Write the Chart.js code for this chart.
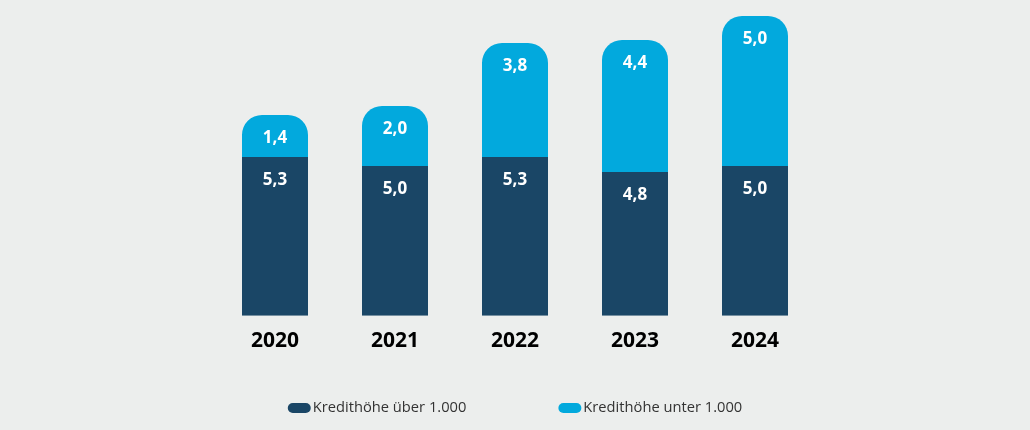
<!DOCTYPE html>
<html>
<head>
<meta charset="utf-8">
<script src="https://cdn.jsdelivr.net/npm/chart.js@4/dist/chart.umd.min.js"></script>
<style>
  html, body { margin: 0; padding: 0; background: #eceeed; }
  #wrap { width: 1030px; height: 430px; position: relative; }
</style>
</head>
<body>
<div id="wrap"><canvas id="c"></canvas></div>
<script>
// Kredithöhe je Jahr (gestapelt)
const years = ['2020', '2021', '2022', '2023', '2024'];
const ueber1000 = [5.3, 5.0, 5.3, 4.8, 5.0];
const unter1000 = [1.4, 2.0, 3.8, 4.4, 5.0];
const seriesNames = ['Kredithöhe über 1.000', 'Kredithöhe unter 1.000'];

const navy = '#1a4666';
const cyan = '#02a9dd';

// white value labels, near the top of every segment
const valueLabels = {
  id: 'valueLabels',
  afterDatasetsDraw(chart) {
    const ctx = chart.ctx;
    ctx.save();
    ctx.fillStyle = '#ffffff';
    ctx.font = 'bold 17px "Open Sans"';
    ctx.textAlign = 'center';
    ctx.textBaseline = 'middle';
    chart.data.datasets.forEach((ds, i) => {
      chart.getDatasetMeta(i).data.forEach((bar, j) => {
        let txt = ds.data[j].toFixed(1).replace('.', ',');
        ctx.fillText(txt, bar.x, bar.y + 23);
      });
    });
    ctx.restore();
  }
};

// legend drawn by hand: the built-in one can't do the wide gap without wrapping
const bottomLegend = {
  id: 'bottomLegend',
  afterDraw(chart) {
    const ctx = chart.ctx;
    const y = 408;
    const gap = 92;
    ctx.save();
    ctx.font = '14.7px "Open Sans"';
    ctx.textBaseline = 'middle';
    const items = chart.data.datasets.map(ds => ({
      text: ds.label,
      color: ds.backgroundColor,
      w: 25 + ctx.measureText(ds.label).width
    }));
    let total = items.reduce((s, it) => s + it.w, 0) + gap * (items.length - 1);
    let x = chart.width / 2 - total / 2;
    items.forEach(it => {
      ctx.fillStyle = it.color;
      ctx.beginPath();
      ctx.roundRect(x, y - 5, 23, 10, 5);
      ctx.fill();
      ctx.fillStyle = '#333';
      ctx.fillText(it.text, x + 25, y);
      x += it.w + gap;
    });
    ctx.restore();
  }
};

new Chart(document.getElementById('c'), {
  type: 'bar',
  data: {
    labels: years,
    datasets: [
      {
        label: seriesNames[0],
        data: ueber1000,
        backgroundColor: navy,
        borderRadius: 0,
        borderSkipped: false,
        categoryPercentage: 1,
        barPercentage: 0.55
      },
      {
        label: seriesNames[1],
        data: unter1000,
        backgroundColor: cyan,
        borderRadius: { topLeft: 20, topRight: 20, bottomLeft: 0, bottomRight: 0 },
        borderSkipped: false,
        categoryPercentage: 1,
        barPercentage: 0.55
      }
    ]
  },
  options: {
    responsive: true,
    maintainAspectRatio: false,
    animation: false,
    layout: { padding: { left: 215, right: 215, top: 16, bottom: 63 } },
    scales: {
      x: {
        stacked: true,
        grid: { display: false, drawTicks: false },
        border: { display: false },
        ticks: {
          color: '#000',
          padding: 13,
          font: { family: 'Open Sans', size: 21, weight: 'bold' }
        }
      },
      y: {
        stacked: true,
        display: false,
        min: 0,
        max: 10
      }
    },
    plugins: {
      legend: { display: false },
      tooltip: { enabled: false }
    }
  },
  plugins: [valueLabels, bottomLegend]
});
</script>
</body>
</html>
